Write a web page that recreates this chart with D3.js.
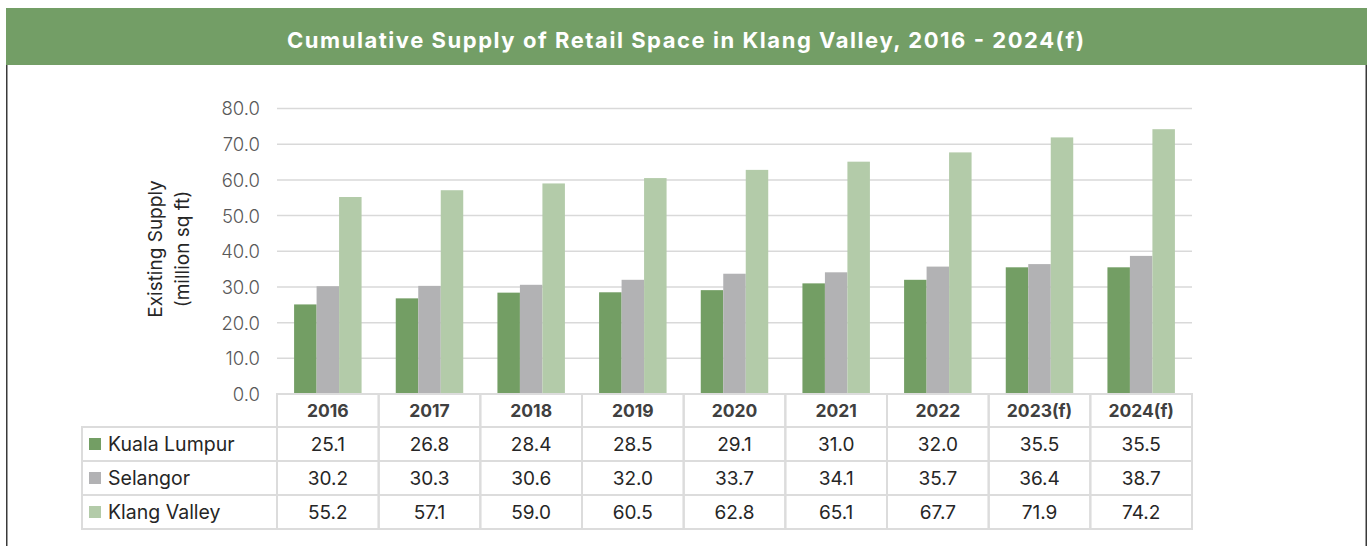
<!DOCTYPE html>
<html><head><meta charset="utf-8">
<script src="https://cdn.jsdelivr.net/npm/d3@7"></script>
<style>
html,body{margin:0;padding:0;background:#fff;}
svg{display:block;font-family:Inter,"Open Sans",sans-serif;}
</style></head>
<body><svg id="chart" width="1369" height="546"></svg>
<script>
const title = "Cumulative Supply of Retail Space in Klang Valley, 2016 - 2024(f)";
const categories = ["2016","2017","2018","2019","2020","2021","2022","2023(f)","2024(f)"];
const seriesNames = ["Kuala Lumpur","Selangor","Klang Valley"];
const kualaLumpur = [25.1,26.8,28.4,28.5,29.1,31.0,32.0,35.5,35.5];
const selangor = [30.2,30.3,30.6,32.0,33.7,34.1,35.7,36.4,38.7];
const klangValley = [55.2,57.1,59.0,60.5,62.8,65.1,67.7,71.9,74.2];
const yTicks = [0,10,20,30,40,50,60,70,80];
const yTitle = ["Existing Supply","(million sq ft)"];
const colors = ["#739e64","#b2b2b4","#b3cba9"];

const series = [kualaLumpur, selangor, klangValley];
const svg = d3.select("#chart");

// frame
svg.append("rect").attr("x",6).attr("y",8).attr("width",1361).attr("height",57).attr("fill","#739e66");
svg.append("line").attr("x1",6.75).attr("x2",6.75).attr("y1",65).attr("y2",546).attr("stroke","#3a3a3a").attr("stroke-width",1.5);
svg.append("line").attr("x1",1366.25).attr("x2",1366.25).attr("y1",65).attr("y2",546).attr("stroke","#3a3a3a").attr("stroke-width",1.5);
const t = svg.append("text").attr("x",685.5).attr("y",47.5).attr("text-anchor","middle")
  .attr("fill","#fff").attr("font-weight","bold").attr("font-size",22).text(title);
t.attr("textLength",797).attr("lengthAdjust","spacing");

const x0 = 277, x1 = 1192, yTop = 108.5, yBot = 394;
const x = d3.scaleBand().domain(categories).range([x0,x1]).paddingInner(0).paddingOuter(0);
const y = d3.scaleLinear().domain([0,80]).range([yBot,yTop]);
const xs = d3.scaleBand().domain(d3.range(series.length)).range([0,x.bandwidth()]).paddingInner(0).paddingOuter(0.76);

// gridlines
svg.append("g").selectAll("line").data(yTicks.slice(1)).join("line")
  .attr("x1",x0).attr("x2",x1).attr("y1",d=>y(d)).attr("y2",d=>y(d))
  .attr("stroke","#d9d9d9").attr("stroke-width",1.5);

// y axis
const yAxis = d3.axisLeft(y).tickValues(yTicks).tickFormat(d3.format(".1f")).tickSize(0).tickPadding(17);
const ga = svg.append("g").attr("transform",`translate(${x0},0)`).call(yAxis);
ga.select(".domain").remove();
ga.selectAll("text").attr("font-size",18.5).attr("fill","#595959").attr("font-family","Inter,sans-serif").attr("font-weight",300).attr("dy","0.35em");

// y title
const yt = svg.append("text").attr("transform","translate(155,249) rotate(-90)").attr("text-anchor","middle")
  .attr("font-size",19).attr("fill","#262626");
yt.selectAll("tspan").data(yTitle).join("tspan").attr("x",0).attr("dy",(d,i)=>i===0?"0.35em":"1.42em").text(d=>d);

// bars
series.forEach((vals,si)=>{
  svg.append("g").selectAll("rect").data(vals).join("rect")
    .attr("x",(d,i)=>x(categories[i])+xs(si))
    .attr("width",xs.bandwidth())
    .attr("y",d=>y(d)).attr("height",d=>y(0)-y(d))
    .attr("fill",colors[si]);
});

// data table
const rowTop = 394, headH = 33, rowH = 34, legX0 = 82;
const grid = "#dcdcdc";
const tg = svg.append("g");
tg.selectAll(".hc").data(categories).join("rect")
  .attr("x",d=>x(d)).attr("y",rowTop).attr("width",x.bandwidth()).attr("height",headH)
  .attr("fill","none").attr("stroke",grid).attr("stroke-width",2);
tg.selectAll(".ht").data(categories).join("text")
  .attr("x",d=>x(d)+x.bandwidth()/2).attr("y",rowTop+headH/2).attr("dy","0.35em")
  .attr("text-anchor","middle").attr("font-weight","bold").attr("font-size",17.5).attr("fill","#404040").text(d=>d);
series.forEach((vals,si)=>{
  const ry = rowTop+headH+si*rowH;
  tg.append("rect").attr("x",legX0).attr("y",ry).attr("width",x0-legX0).attr("height",rowH)
    .attr("fill","none").attr("stroke",grid).attr("stroke-width",2);
  tg.append("rect").attr("x",89).attr("y",ry+rowH/2-6).attr("width",12).attr("height",12).attr("fill",colors[si]);
  tg.append("text").attr("x",108).attr("y",ry+rowH/2).attr("dy","0.35em").attr("font-size",19.5).attr("fill","#262626").text(seriesNames[si]);
  const gr = tg.append("g");
  gr.selectAll("rect").data(vals).join("rect")
    .attr("x",(d,i)=>x(categories[i])).attr("y",ry).attr("width",x.bandwidth()).attr("height",rowH)
    .attr("fill","none").attr("stroke",grid).attr("stroke-width",2);
  gr.selectAll("text").data(vals).join("text")
    .attr("x",(d,i)=>x(categories[i])+x.bandwidth()/2).attr("y",ry+rowH/2).attr("dy","0.35em")
    .attr("text-anchor","middle").attr("font-size",19).attr("fill","#262626").text(d=>d.toFixed(1));
});
</script></body></html>
